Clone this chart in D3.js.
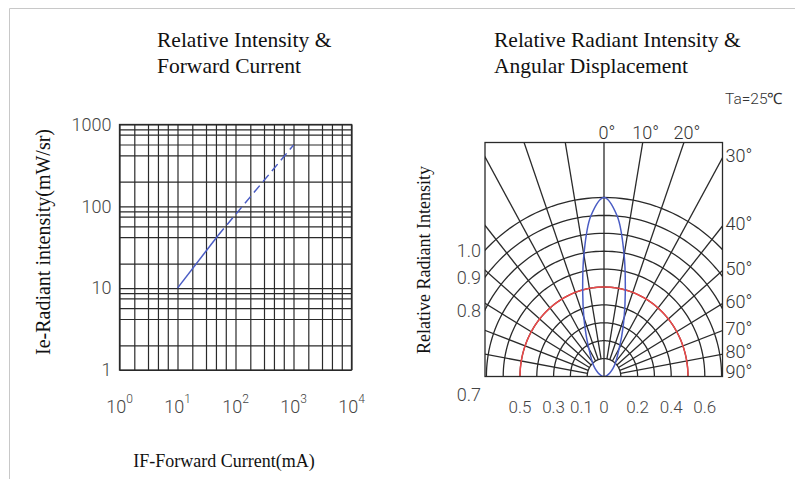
<!DOCTYPE html>
<html>
<head>
<meta charset="utf-8">
<script src="https://cdn.jsdelivr.net/npm/d3@7"></script>
<style>
  body { margin: 0; background: #fff; }
  svg { display: block; }
</style>
</head>
<body>
<div id="container"></div>
<script>
const width = 795
const height = 479

// left chart: forward current (mA) vs radiant intensity (mW/sr)
const forwardCurrent = [10, 50, 1000]
const radiantIntensity = [10, 44, 560]
const solidUntil = 50
const xDecades = [1, 10, 100, 1000, 10000]
const yDecades = [1, 10, 100, 1000]
const xMinorSteps = [1.8, 3.1, 4.6, 6.8]
const yMinorSteps = [2, 4.2, 5.7, 7.5, 8.7]

// right chart: radiation pattern
const beamAngles = [0, 5, 10, 15, 20, 25, 30, 40, 50, 60, 70, 80, 90]
const beamIntensity = [1.0, 0.9, 0.69, 0.49, 0.35, 0.25, 0.18, 0.11, 0.07, 0.04, 0.02, 0.01, 0]
const ringLevels = [0.1, 0.2, 0.3, 0.4, 0.5, 0.6, 0.7, 0.8, 0.9, 1.0]
const halfRing = 0.5
const spokeAngles = [-80, -70, -60, -50, -40, -30, -20, -10, 0, 10, 20, 30, 40, 50, 60, 70, 80]
const topAngleLabels = [0, 10, 20]
const sideAngleLabels = [30, 40, 50, 60, 70, 80, 90]
const leftRingLabels = [1.0, 0.9, 0.8, 0.7]
const bottomLeftLabels = [0.5, 0.3, 0.1]
const bottomRightLabels = [0.2, 0.4, 0.6]

const serif = '"Liberation Serif", "Times New Roman", serif'
const thin = 'Roboto, "Open Sans", sans-serif'
const lineColor = '#2a2a2a'

const svg = d3.select('#container')
  .append('svg')
  .attr('width', width)
  .attr('height', height)

// page frame
svg.append('path')
  .attr('d', `M9.5,${height}V8.5H${width}`)
  .attr('fill', 'none')
  .attr('stroke', '#c8c8c8')

// titles
const titleLeft = ['Relative Intensity &', 'Forward Current']
const titleRight = ['Relative Radiant Intensity &', 'Angular Displacement']
;[[titleLeft, 157], [titleRight, 494]].forEach(([lines, tx]) => {
  svg.append('g').selectAll('text')
    .data(lines)
    .join('text')
    .attr('x', tx)
    .attr('y', (d, i) => 47 + i * 26)
    .attr('font-family', serif)
    .attr('font-size', 21.5)
    .attr('fill', '#111')
    .text(d => d)
})

// ---------- left chart ----------
const x = d3.scaleLog().domain([1, 10000]).range([119.5, 351.5])
const y = d3.scaleLog().domain([1, 1000]).range([370, 124.5])

const xGrid = []
xDecades.forEach(d => {
  xGrid.push(d)
  if (d < 10000) xMinorSteps.forEach(m => xGrid.push(d * m))
})
const yGrid = []
yDecades.forEach(d => {
  yGrid.push(d)
  if (d < 1000) yMinorSteps.forEach(m => yGrid.push(d * m))
})

const left = svg.append('g')

const gx = left.append('g')
  .attr('transform', `translate(0,${y.range()[0]})`)
  .call(d3.axisBottom(x).tickValues(xGrid).tickSize(-(y.range()[0] - y.range()[1])).tickFormat(''))
gx.select('.domain').remove()
gx.selectAll('line').attr('stroke', lineColor).attr('stroke-width', 1.2)

const gy = left.append('g')
  .attr('transform', `translate(${x.range()[0]},0)`)
  .call(d3.axisLeft(y).tickValues(yGrid).tickSize(-(x.range()[1] - x.range()[0])).tickFormat(''))
gy.select('.domain').remove()
gy.selectAll('line').attr('stroke', lineColor).attr('stroke-width', 1.2)

left.append('rect')
  .attr('x', x.range()[0])
  .attr('y', y.range()[1])
  .attr('width', x.range()[1] - x.range()[0])
  .attr('height', y.range()[0] - y.range()[1])
  .attr('fill', 'none')
  .attr('stroke', lineColor)
  .attr('stroke-width', 1.3)

// y tick labels
const yLab = left.append('g')
  .attr('transform', `translate(${x.range()[0]},0)`)
  .call(d3.axisLeft(y).tickValues(yDecades).tickSize(0).tickPadding(8).tickFormat(d3.format('d')))
yLab.select('.domain').remove()
yLab.selectAll('text')
  .attr('font-family', thin)
  .attr('font-weight', 300)
  .attr('font-size', 18)
  .attr('fill', '#444')

// x tick labels 10^n
const xLab = left.append('g').selectAll('text')
  .data(xDecades)
  .join('text')
  .attr('x', d => x(d))
  .attr('y', 413)
  .attr('text-anchor', 'middle')
  .attr('font-family', thin)
  .attr('font-weight', 300)
  .attr('font-size', 18)
  .attr('fill', '#444')
xLab.append('tspan').text('10')
xLab.append('tspan')
  .attr('dy', -10)
  .attr('font-size', 12)
  .text(d => Math.round(Math.log10(d)))

// curve
const pts = forwardCurrent.map((c, i) => [c, radiantIntensity[i]])
const line = d3.line().x(d => x(d[0])).y(d => y(d[1]))
left.append('path')
  .attr('d', line(pts.filter(d => d[0] <= solidUntil)))
  .attr('fill', 'none')
  .attr('stroke', '#4a5cc4')
  .attr('stroke-width', 1.5)
left.append('path')
  .attr('d', line(pts.filter(d => d[0] >= solidUntil)))
  .attr('fill', 'none')
  .attr('stroke', '#4a5cc4')
  .attr('stroke-width', 1.5)
  .attr('stroke-dasharray', '9,5')

// axis titles
left.append('text')
  .attr('transform', 'translate(50,242) rotate(-90)')
  .attr('text-anchor', 'middle')
  .attr('font-family', serif)
  .attr('font-size', 20)
  .attr('fill', '#111')
  .text('Ie-Radiant intensity(mW/sr)')
left.append('text')
  .attr('x', 224)
  .attr('y', 467)
  .attr('text-anchor', 'middle')
  .attr('font-family', serif)
  .attr('font-size', 18)
  .attr('fill', '#111')
  .text('IF-Forward Current(mA)')

// ---------- right chart ----------
const box = { left: 485, right: 722.5, top: 142.5, bottom: 376.5 }
const cx = 604
const cy = box.bottom
const rX = d3.scaleLinear().domain([0, 1]).range([0, 168])
const rY = d3.scaleLinear().domain([0, 1]).range([0, 179])
const rad = a => a * Math.PI / 180
const px = (r, a) => cx + rX(r) * Math.sin(rad(a))
const py = (r, a) => cy - rY(r) * Math.cos(rad(a))

const right = svg.append('g')
right.append('clipPath').attr('id', 'polarClip')
  .append('rect')
  .attr('x', box.left).attr('y', box.top)
  .attr('width', box.right - box.left).attr('height', box.bottom - box.top)

const grid = right.append('g').attr('clip-path', 'url(#polarClip)')
const arcAngles = d3.range(-90, 90.01, 2)
const ring = level => d3.line()(arcAngles.map(a => [px(level, a), py(level, a)]))

grid.selectAll('.ring')
  .data(ringLevels)
  .join('path')
  .attr('d', ring)
  .attr('fill', 'none')
  .attr('stroke', lineColor)
  .attr('stroke-width', 1.3)

grid.selectAll('.spoke')
  .data(spokeAngles)
  .join('line')
  .attr('x1', a => px(a === 0 ? 0 : ringLevels[0], a))
  .attr('y1', a => py(a === 0 ? 0 : ringLevels[0], a))
  .attr('x2', a => px(2, a))
  .attr('y2', a => py(2, a))
  .attr('stroke', lineColor)
  .attr('stroke-width', 1.3)

grid.append('path')
  .attr('d', ring(halfRing))
  .attr('fill', 'none')
  .attr('stroke', '#f04848')
  .attr('stroke-width', 1.5)

const beamPts = []
for (let i = beamAngles.length - 1; i > 0; i--) beamPts.push([-beamAngles[i], beamIntensity[i]])
for (let i = 0; i < beamAngles.length; i++) beamPts.push([beamAngles[i], beamIntensity[i]])
grid.append('path')
  .attr('d', d3.line().curve(d3.curveCatmullRom)(beamPts.map(([a, r]) => [px(r, a), py(r, a)])))
  .attr('fill', 'none')
  .attr('stroke', '#4a5cc4')
  .attr('stroke-width', 1.5)

right.append('rect')
  .attr('x', box.left).attr('y', box.top)
  .attr('width', box.right - box.left).attr('height', box.bottom - box.top)
  .attr('fill', 'none')
  .attr('stroke', lineColor)
  .attr('stroke-width', 1.3)

// degree labels
function degLabel (g, tx, ty, deg, anchor) {
  g.append('text')
    .attr('x', tx).attr('y', ty)
    .attr('text-anchor', anchor)
    .attr('font-family', thin)
    .attr('font-weight', 300)
    .attr('font-size', 18)
    .attr('fill', '#333')
    .text(deg + '°')
}

const labels = right.append('g')
topAngleLabels.forEach(a => {
  const r = rY.invert((cy - box.top) / Math.cos(rad(a)))
  degLabel(labels, px(r, a) + 3, box.top - 4, a, 'middle')
})
sideAngleLabels.forEach(a => {
  let ly = cy
  if (a < 90) {
    const r = rX.invert((box.right - cx) / Math.sin(rad(a)))
    ly = py(r, a)
  }
  degLabel(labels, box.right + 3, Math.min(ly + 4, cy + 1), a, 'start')
})

// intensity labels on the left
labels.selectAll('.ringLab')
  .data(leftRingLabels)
  .join('text')
  .attr('x', box.left - 4)
  .attr('y', v => {
    const dx = cx - box.left
    if (rX(v) <= dx) return cy + 24
    return cy - rY(v) * Math.sqrt(1 - (dx / rX(v)) ** 2) + 7
  })
  .attr('text-anchor', 'end')
  .attr('font-family', thin)
  .attr('font-weight', 300)
  .attr('font-size', 18)
  .attr('fill', '#444')
  .text(d3.format('.1f'))

// intensity labels below (kept clear of the centre "0")
const bottomLabels = bottomLeftLabels.map(v => [cx - Math.max(rX(v), 22.5), d3.format('.1f')(v)])
  .concat([[cx, '0']])
  .concat(bottomRightLabels.map(v => [cx + rX(v), d3.format('.1f')(v)]))
labels.selectAll('.botLab')
  .data(bottomLabels)
  .join('text')
  .attr('x', d => d[0])
  .attr('y', cy + 36.5)
  .attr('text-anchor', 'middle')
  .attr('font-family', thin)
  .attr('font-weight', 300)
  .attr('font-size', 17)
  .attr('fill', '#444')
  .text(d => d[1])

right.append('text')
  .attr('transform', 'translate(430,260) rotate(-90)')
  .attr('text-anchor', 'middle')
  .attr('font-family', serif)
  .attr('font-size', 18)
  .attr('fill', '#111')
  .text('Relative Radiant Intensity')

right.append('text')
  .attr('x', 725)
  .attr('y', 104)
  .attr('font-family', thin)
  .attr('font-weight', 300)
  .attr('font-size', 15.5)
  .attr('fill', '#333')
  .text('Ta=25℃')
</script>
</body>
</html>
